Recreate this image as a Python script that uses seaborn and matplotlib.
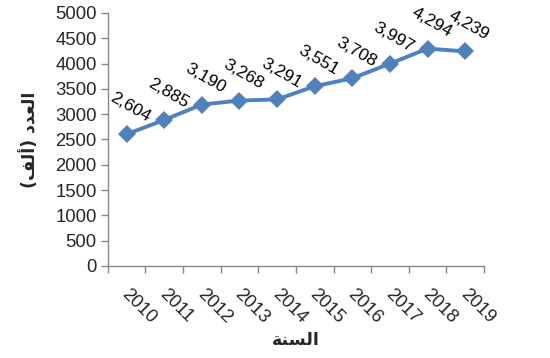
import pandas as pd
import seaborn as sns
import matplotlib.pyplot as plt
import matplotlib.transforms as mtransforms
import numpy as np

years = ["2010", "2011", "2012", "2013", "2014", "2015", "2016", "2017", "2018", "2019"]
counts = [2604, 2885, 3190, 3268, 3291, 3551, 3708, 3997, 4294, 4239]

# arabic labels, pre-shaped in visual order (matplotlib has no bidi / shaping)
xlabel_ar = "\ufe94\ufee8\ufeb4\ufedf\ufe8d"  # السنة
ylabel_ar = "(\ufed2\ufedf\ufe83) \ufea9\ufeaa\ufecc\ufedf\ufe8d"  # العدد (ألف)

df = pd.DataFrame({"pos": np.arange(len(years)), "count": counts})

sns.set_style("white")
plt.rcParams['font.family'] = ['Liberation Sans', 'DejaVu Sans']

fig = plt.figure(figsize=(5.5, 3.58), dpi=100)
ax = fig.add_axes([0.196, 0.257, 0.684, 0.707])

blue = "#4F81BD"
fs = 13.3
sns.lineplot(data=df, x="pos", y="count", ax=ax, color=blue, linewidth=2.8,
             marker="D", markersize=9, markeredgewidth=0)

for i, v in enumerate(counts):
  ax.annotate(f"{v:,}", (i, v), xytext=(3, 19), textcoords="offset points",
              ha="center", va="center", rotation=-30, rotation_mode="anchor",
              fontsize=12.6, color="black")

ax.set_xlim(-0.5, len(years) - 0.5)
ax.set_ylim(0, 5000)
ax.set_yticks(range(0, 5001, 500))
ax.tick_params(axis="y", labelsize=fs, length=5, width=1, color="#888888", left=True, pad=3)

ax.set_xticks(np.arange(-0.5, len(years), 1))
ax.set_xticklabels([])
ax.tick_params(axis="x", which="major", length=5, width=1, color="#888888", bottom=True)
ax.set_xticks(np.arange(len(years)), minor=True)
ax.set_xticklabels(years, minor=True, rotation=-45, ha="left", rotation_mode="anchor",
                   fontsize=fs)
ax.tick_params(axis="x", which="minor", length=0, pad=14)
shift = mtransforms.ScaledTranslation(4 / 100, 0, fig.dpi_scale_trans)
for lab in ax.get_xticklabels(minor=True):
  lab.set_transform(lab.get_transform() + shift)

for s in ["top", "right"]:
  ax.spines[s].set_visible(False)
for s in ["left", "bottom"]:
  ax.spines[s].set_color("#888888")
  ax.spines[s].set_linewidth(1)

ax.set_xlabel(xlabel_ar, fontsize=12.5, fontweight="bold", family=["DejaVu Sans"], labelpad=3)
ax.set_ylabel(ylabel_ar, fontsize=12.5, fontweight="bold", family=["DejaVu Sans"], labelpad=12)

plt.savefig("out.png", dpi=100)
